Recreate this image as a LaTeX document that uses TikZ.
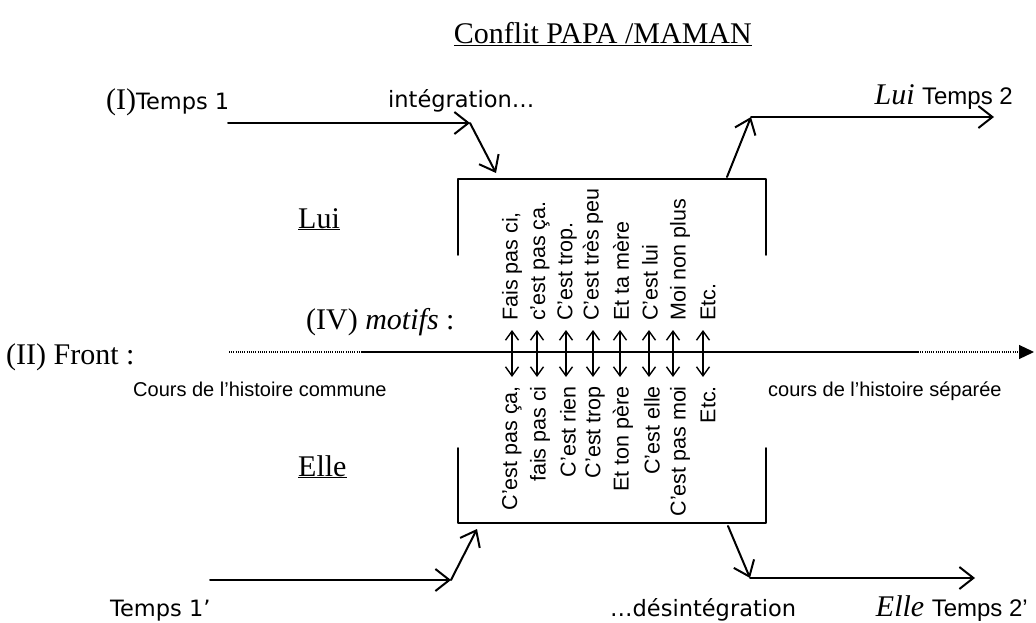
\documentclass[tikz,border=0pt]{standalone}
\usepackage{fontspec}
\setmainfont{Liberation Serif}
\setsansfont{Liberation Sans}
\newfontfamily\comicfont{DejaVu Sans}
\usetikzlibrary{arrows.meta}
\newcommand\tnr{\rmfamily\fontsize{30}{36}\selectfont}
\newcommand\cmc{\comicfont\fontsize{22.5}{27}\selectfont}
\newcommand\arl{\sffamily\fontsize{24}{28}\selectfont}
\tikzset{
  flow/.style={line width=2pt, -{Straight Barb[length=14pt,width=22pt,line width=2pt]}},
  dbl/.style={line width=1.4pt, {Straight Barb[length=9pt,width=13pt,line width=1.4pt]}-{Straight Barb[length=9pt,width=13pt,line width=1.4pt]}},
  boxline/.style={line width=1.6pt},
  sans/.style={font=\sffamily\fontsize{20}{24}\selectfont},
  motif/.style={font=\sffamily\fontsize{21.5}{26}\selectfont, rotate=90, inner sep=0pt}
}
\begin{document}
\begin{tikzpicture}[x=1pt, y=-1pt, line cap=round, line join=round]
  \useasboundingbox (0,0) rectangle (1036,623);
  \node[anchor=base east, inner sep=0pt] (title) at (752,44) {\tnr\underline{Conflit PAPA /MAMAN}};
  % temps 1 -> integration
  \node[anchor=base west, inner sep=0pt] (t1) at (106,110) {\tnr (I)\cmc Temps 1};
  \node[anchor=base west, inner sep=0pt] (integ) at (388,108) {\cmc intégration…};
  \coordinate (a1) at (228,123);
  \coordinate (a2) at (470,123);
  \coordinate (a3) at (496,173);
  \draw[flow] (a1) -- (a2);
  \draw[flow] (a2) -- (a3);
  % lui -> temps 2
  \coordinate (b1) at (727,177);
  \coordinate (b2) at (751,117);
  \coordinate (b3) at (994,117);
  \draw[flow] (b1) -- (b2);
  \draw[flow] (b2) -- (b3);
  \node[anchor=base east, inner sep=0pt] (t2) at (1013,105) {\tnr\textit{Lui} \arl Temps 2};
  % the box
  \draw[boxline] (458,255) |- (766,179) -- (766,255);
  \draw[boxline] (458,448) |- (766,523) -- (766,448);
  \node[anchor=base west, inner sep=0pt] (lui) at (298,228) {\tnr\underline{Lui}};
  \node[anchor=base west, inner sep=0pt] (elle) at (298,476) {\tnr\underline{Elle}};
  % front
  \node[anchor=base west, inner sep=0pt] (motifs) at (306,329) {\tnr (IV) \textit{motifs} :};
  \node[anchor=base west, inner sep=0pt] (front) at (6,364) {\tnr (II) Front :};
  \coordinate (f1) at (229,352);
  \coordinate (f2) at (362,352);
  \coordinate (f3) at (918,352);
  \coordinate (f4) at (1034,352);
  \draw[line width=1.2pt, dash pattern=on 0.6pt off 1.6pt, line cap=butt] (f1) -- (f2);
  \draw[line width=2.4pt, line cap=butt] (f2) -- (f3);
  \draw[line width=1.2pt, dash pattern=on 0.6pt off 1.6pt, line cap=butt, -{Triangle[length=15pt,width=14pt]}] (f3) -- (f4);
  \node[sans, anchor=base west, inner sep=0pt] (commune) at (133,396) {Cours de l’histoire commune};
  \node[sans, anchor=base west, inner sep=0pt] (separee) at (768,396) {cours de l’histoire séparée};
  % motifs
  \foreach \x/\txt [count=\i] in {512/{Fais pas ci,}, 540/{c’est pas ça.}, 567/{C’est trop.}, 593/{C’est très peu},
      621/{Et ta mère}, 650/{C’est lui}, 680/{Moi non plus}, 708/{Etc.}}
    \node[motif, anchor=west] (up\i) at (\x,321) {\txt};
  \foreach \x/\txt [count=\i] in {512/{C’est pas ça,}, 540/{fais pas ci}, 568/{C’est rien}, 595/{C’est trop},
      623/{Et ton père}, 652/{C’est elle}, 680/{C’est pas moi}, 708/{Etc.}}
    \node[motif, anchor=east] (lo\i) at (\x,386) {\txt};
  \foreach \x [count=\i] in {512,537,566,593,620,649,673,703}
    \draw[dbl] (\x,330) -- (\x,377);
  % temps 1' -> elle
  \node[anchor=base west, inner sep=0pt] (t1b) at (110,616) {\cmc Temps 1’};
  \coordinate (c1) at (210,580);
  \coordinate (c2) at (451,580);
  \coordinate (c3) at (477,529);
  \draw[flow] (c1) -- (c2);
  \draw[flow] (c2) -- (c3);
  % elle -> temps 2'
  \coordinate (d1) at (728,526);
  \coordinate (d2) at (750,578);
  \coordinate (d3) at (975,578);
  \draw[flow] (d1) -- (d2);
  \draw[flow] (d2) -- (d3);
  \node[anchor=base west, inner sep=0pt] (desint) at (610,616) {\cmc …désintégration};
  \node[anchor=base east, inner sep=0pt] (t2b) at (1028,616) {\tnr\textit{Elle} \arl Temps 2’};
\end{tikzpicture}
\end{document}
